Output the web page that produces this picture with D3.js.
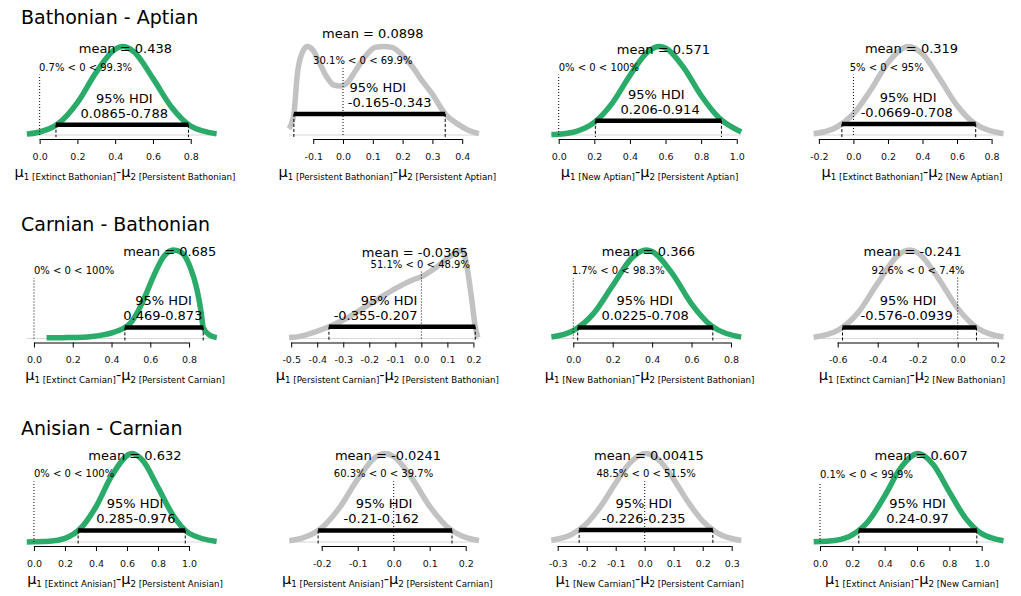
<!DOCTYPE html>
<html>
<head>
<meta charset="utf-8">
<script src="https://cdnjs.cloudflare.com/ajax/libs/d3/7.8.5/d3.min.js"></script>
<style>
  body { margin: 0; background: #fff; }
  svg { display: block; font-family: "DejaVu Sans", sans-serif; }
</style>
</head>
<body>
<div id="main"></div>
<script>
//////////
// DATA //
//////////

const rowTitles = ["Bathonian - Aptian", "Carnian - Bathonian", "Anisian - Carnian"]

// groups compared in each panel (mu1 - mu2)
const groupA = [
    "Extinct Bathonian", "Persistent Bathonian", "New Aptian", "Extinct Bathonian"
  , "Extinct Carnian", "Persistent Carnian", "New Bathonian", "Extinct Carnian"
  , "Extinct Anisian", "Persistent Anisian", "New Carnian", "Extinct Anisian"
]
const groupB = [
    "Persistent Bathonian", "Persistent Aptian", "Persistent Aptian", "New Aptian"
  , "Persistent Carnian", "Persistent Bathonian", "Persistent Bathonian", "New Bathonian"
  , "Persistent Anisian", "Persistent Carnian", "Persistent Carnian", "New Carnian"
]

const means   = [0.438, 0.0898, 0.571, 0.319, 0.685, -0.0365, 0.366, -0.241, 0.632, -0.0241, 0.00415, 0.607]
const hdiLo   = [0.0865, -0.165, 0.206, -0.0669, 0.469, -0.355, 0.0225, -0.576, 0.285, -0.21, -0.226, 0.24]
const hdiHi   = [0.788, 0.343, 0.914, 0.708, 0.873, 0.207, 0.708, 0.0939, 0.976, 0.162, 0.235, 0.97]
const pctBelow = [0.7, 30.1, 0, 5, 0, 51.1, 1.7, 92.6, 0, 60.3, 48.5, 0.1]

// sample range of each posterior
const xRange = [
    [-0.068, 0.937], [-0.181, 0.456], [-0.041, 1.025], [-0.23, 0.869]
  , [-0.037, 0.942], [-0.508, 0.221], [-0.111, 0.852], [-0.72, 0.229]
  , [-0.046, 1.178], [-0.2906, 0.2367], [-0.3217, 0.3328], [-0.039, 1.135]
]

const ticks = [
    [0, 0.2, 0.4, 0.6, 0.8]
  , [-0.1, 0, 0.1, 0.2, 0.3, 0.4]
  , [0, 0.2, 0.4, 0.6, 0.8, 1.0]
  , [-0.2, 0, 0.2, 0.4, 0.6, 0.8]
  , [0, 0.2, 0.4, 0.6, 0.8]
  , [-0.5, -0.4, -0.3, -0.2, -0.1, 0, 0.1, 0.2]
  , [0, 0.2, 0.4, 0.6, 0.8]
  , [-0.6, -0.4, -0.2, 0, 0.2]
  , [0, 0.2, 0.4, 0.6, 0.8, 1.0]
  , [-0.2, -0.1, 0, 0.1, 0.2]
  , [-0.3, -0.2, -0.1, 0, 0.1, 0.2, 0.3]
  , [0, 0.2, 0.4, 0.6, 0.8, 1.0]
]

// density curves, height relative to the panel maximum
const curves = [
    [[-0.068,0.01],[0,0.034],[0.1,0.13],[0.2,0.365],[0.3,0.71],[0.4,0.97],[0.44,1],[0.5,0.94],[0.6,0.64],[0.7,0.31],[0.8,0.1],[0.937,0.013]]
  , [[-0.181,0.07],[-0.165,0.238],[-0.153,0.7],[-0.137,0.93],[-0.12,1],[-0.101,0.96],[-0.081,0.83],[-0.059,0.68],[-0.031,0.565],[-0.009,0.554],[0.014,0.59],[0.041,0.72],[0.075,0.89],[0.108,0.99],[0.136,1],[0.164,0.99],[0.197,0.91],[0.231,0.78],[0.264,0.62],[0.298,0.47],[0.343,0.238],[0.387,0.12],[0.42,0.054],[0.456,0.015]]
  , [[-0.041,0.005],[0,0.009],[0.1,0.042],[0.2,0.143],[0.3,0.358],[0.4,0.672],[0.5,0.94],[0.565,1],[0.6,0.982],[0.7,0.766],[0.8,0.446],[0.9,0.194],[1.025,0.035]]
  , [[-0.23,0.014],[-0.1,0.085],[0,0.238],[0.1,0.508],[0.2,0.817],[0.32,1],[0.4,0.914],[0.5,0.635],[0.6,0.334],[0.7,0.132],[0.869,0.015]]
  , [[0.065,0.008],[0.169,0.01],[0.25,0.014],[0.3,0.022],[0.35,0.038],[0.4,0.062],[0.44,0.092],[0.469,0.125],[0.5,0.18],[0.53,0.28],[0.564,0.43],[0.616,0.7],[0.667,0.92],[0.719,1],[0.762,0.97],[0.805,0.81],[0.84,0.56],[0.862,0.3],[0.873,0.125],[0.905,0.04],[0.943,0.01]]
  , [[-0.508,0.01],[-0.458,0.03],[-0.407,0.076],[-0.355,0.133],[-0.292,0.22],[-0.228,0.335],[-0.164,0.45],[-0.1,0.563],[-0.036,0.658],[0.002,0.7],[0.041,0.77],[0.079,0.855],[0.117,0.943],[0.143,0.98],[0.158,1],[0.175,0.81],[0.194,0.43],[0.207,0.133],[0.217,0.01]]
  , [[-0.111,0.017],[0,0.088],[0.1,0.275],[0.2,0.599],[0.3,0.917],[0.37,1],[0.4,0.984],[0.5,0.741],[0.6,0.392],[0.7,0.145],[0.852,0.016]]
  , [[-0.72,0.014],[-0.6,0.091],[-0.5,0.287],[-0.4,0.625],[-0.3,0.937],[-0.241,1],[-0.2,0.969],[-0.1,0.691],[0,0.34],[0.1,0.115],[0.229,0.016]]
  , [[-0.046,0.001],[0.1,0.008],[0.2,0.041],[0.3,0.152],[0.4,0.398],[0.5,0.742],[0.632,1],[0.7,0.924],[0.8,0.617],[0.9,0.293],[1,0.099],[1.178,0.006]]
  , [[-0.29,0.015],[-0.25,0.049],[-0.2,0.16],[-0.15,0.391],[-0.1,0.711],[-0.05,0.961],[-0.024,1],[0,0.966],[0.05,0.724],[0.1,0.403],[0.15,0.167],[0.2,0.052],[0.237,0.018]]
  , [[-0.322,0.02],[-0.25,0.089],[-0.2,0.21],[-0.15,0.411],[-0.1,0.667],[-0.05,0.897],[0.004,1],[0.05,0.924],[0.1,0.708],[0.15,0.45],[0.2,0.237],[0.25,0.103],[0.333,0.017]]
  , [[-0.039,0.002],[0.1,0.02],[0.2,0.08],[0.3,0.237],[0.4,0.52],[0.5,0.84],[0.607,1],[0.7,0.876],[0.8,0.566],[0.9,0.27],[1,0.094],[1.135,0.014]]
]

// density height of the HDI bar
const hdiHt = [0.116, 0.238, 0.16, 0.123, 0.125, 0.133, 0.125, 0.125, 0.13, 0.13, 0.137, 0.13]

// label anchors (density units / x units)
const meanHt = [0.923, 1.10, 0.915, 0.923, 0.932, 0.924, 0.932, 0.932, 0.927, 0.927, 0.927, 0.927]
const cvHt   = [0.727, 0.80, 0.727, 0.727, 0.729, 0.80, 0.729, 0.734, 0.731, 0.731, 0.731, 0.72]
const hdiTextAt  = [0.448, 0.034, 0.494, 0.33, 0.677, -0.015, 0.36, -0.237, 0.637, -0.005, -0.001, 0.607]
const hdiTextAdj = [0.5, 0.065, 0.33, 0.54, 0.53, 1, 0.49, 0.54, 0.46, 0.64, 0.51, 0.51]


////////////
// LAYOUT //
////////////

const WIDTH = 1021
const HEIGHT = 596

const COL_X = [0, 262.3, 524.6, 786.9]
const ROW_Y = [0, 203.5, 407]
const TITLE_Y = [23.5, 230.5, 435]

const GREEN = "#2bab6a"
const GREY  = "#c2c2c2"


//////////
// DRAW //
//////////

const svg = d3.select("#main").append("svg")
    .attr("width", WIDTH)
    .attr("height", HEIGHT)

rowTitles.forEach((t, r) => {
    svg.append("text")
        .attr("x", 21)
        .attr("y", TITLE_Y[r])
        .attr("font-size", 19)
        .text(t)
})

d3.range(curves.length).forEach(draw_panel)


///////////////
// FUNCTIONS //
///////////////

function draw_panel(i){
    const r = Math.floor(i / 4)
    const c = i % 4
    const left = COL_X[c]
    const top = ROW_Y[r]

    const x = d3.scaleLinear()
        .domain(xRange[i])
        .range([left + 26.8, left + 216.6])

    const y = d3.scaleLinear()
        .domain([0, 1])
        .range([top + 135, top + 46.5])

    const colour = (hdiLo[i] > 0 || hdiHi[i] < 0) ? GREEN : GREY
    const g = svg.append("g")

    // thin baseline over the sample range
    g.append("line")
        .attr("x1", x(xRange[i][0])).attr("x2", x(xRange[i][1]))
        .attr("y1", y(0)).attr("y2", y(0))
        .attr("stroke", "#d8d8d8")
        .attr("stroke-width", 1.2)

    // density curve
    const line = d3.line()
        .x(d => x(d[0]))
        .y(d => y(d[1]))
        .curve(d3.curveMonotoneX)

    g.append("path")
        .datum(curves[i])
        .attr("d", line)
        .attr("fill", "none")
        .attr("stroke", colour)
        .attr("stroke-width", 5.5)
        .attr("stroke-linejoin", "round")

    // HDI drop lines + bar
    const ends = [hdiLo[i], hdiHi[i]]
    ends.forEach(v => {
        g.append("line")
            .attr("x1", x(v)).attr("x2", x(v))
            .attr("y1", y(hdiHt[i])).attr("y2", y(0) + 2)
            .attr("stroke", "#000")
            .attr("stroke-width", 1)
            .attr("stroke-dasharray", "3,2")
    })
    g.append("line")
        .attr("x1", x(hdiLo[i])).attr("x2", x(hdiHi[i]))
        .attr("y1", y(hdiHt[i])).attr("y2", y(hdiHt[i]))
        .attr("stroke", "#000")
        .attr("stroke-width", 4.5)

    // comparison value 0
    g.append("line")
        .attr("x1", x(0)).attr("x2", x(0))
        .attr("y1", y(0)).attr("y2", y(cvHt[i]) + 4)
        .attr("stroke", "#000")
        .attr("stroke-width", 1)
        .attr("stroke-dasharray", "1,2")

    // axis
    const axis = d3.axisBottom(x)
        .tickValues(ticks[i])
        .tickSize(5)
        .tickPadding(9)
        .tickFormat(d => d.toFixed(1))

    const ag = g.append("g")
        .attr("transform", `translate(0,${top + 139})`)
        .call(axis)
    ag.select(".domain").remove()
    ag.attr("font-family", null).attr("font-size", 9.5)
    ag.selectAll("text").attr("fill", "#111")
    const tk = ticks[i]
    ag.append("line")
        .attr("x1", x(tk[0])).attr("x2", x(tk[tk.length - 1]))
        .attr("y1", 0.5).attr("y2", 0.5)
        .attr("stroke", "#000")

    // mean label
    g.append("text")
        .attr("x", x(means[i]) + 3)
        .attr("y", y(meanHt[i]))
        .attr("text-anchor", "middle")
        .attr("font-size", 13)
        .text(`mean = ${means[i]}`)

    // percent below / above 0
    const above = +(100 - pctBelow[i]).toFixed(1)
    const cv = g.append("text")
        .attr("y", y(cvHt[i]))
        .attr("font-size", 10)
        .text(`${pctBelow[i]}% < 0 < ${above}%`)
    const cw = cv.node().getComputedTextLength()
    cv.attr("x", x(0) - pctBelow[i] / 100 * cw)

    // HDI label, two lines sharing one anchor
    const lines = ["95% HDI", `${hdiLo[i]}-${hdiHi[i]}`]
    const offsets = [22, 7]
    lines.forEach((s, k) => {
        const t = g.append("text")
            .attr("y", y(hdiHt[i]) - offsets[k])
            .attr("font-size", 13)
            .text(s)
        const w = t.node().getComputedTextLength()
        t.attr("x", x(hdiTextAt[i]) - hdiTextAdj[i] * w)
    })

    // x label: mu1 [A] - mu2 [B]
    const lab = g.append("text")
        .attr("x", left + 125)
        .attr("y", top + 176.5)
        .attr("text-anchor", "middle")
        .attr("font-size", 14.5)
    lab.append("tspan").text("\u03bc")
    lab.append("tspan").attr("font-size", 8.7).attr("dy", 3).text(`1 [${groupA[i]}]`)
    lab.append("tspan").attr("dy", -3).text("-\u03bc")
    lab.append("tspan").attr("font-size", 8.7).attr("dy", 3).text(`2 [${groupB[i]}]`)
}
</script>
</body>
</html>
